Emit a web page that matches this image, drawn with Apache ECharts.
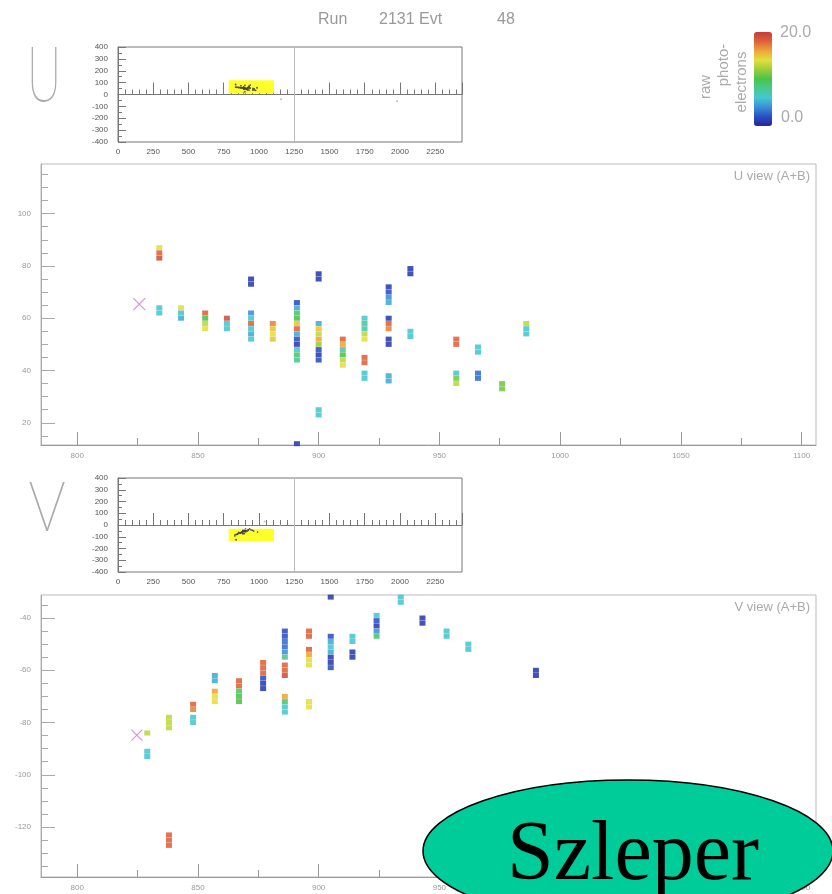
<!DOCTYPE html>
<html>
<head>
<meta charset="utf-8">
<title>Run 2131 Evt 48</title>
<script src="https://cdn.jsdelivr.net/npm/echarts@6.0.0/dist/echarts.min.js"></script>
<style>
  html, body { margin: 0; padding: 0; background: #fff; }
  #main { width: 832px; height: 894px; }
</style>
</head>
<body>
<div id="main"></div>
<script>
// hits: [position, coordinate, raw photo-electrons]
var uHits = [
  [834,87,14],[834,85,18],[834,83,19],[834,64,6],[834,62,6],
  [843,64,14],[843,62,6],[843,60,5],
  [853,62,18],[853,60,10],[853,58,13],[853,56,14],
  [862,60,19],[862,58,6],[862,56,6],
  [872,75,1],[872,73,1],[872,62,4],[872,60,6],[872,58,18],[872,56,6],[872,54,5],[872,52,6],
  [881,58,17],[881,56,15],[881,54,14],[881,52,15],
  [891,66,2],[891,64,5],[891,62,9],[891,60,10],[891,58,15],[891,56,18],[891,54,5],[891,52,2],[891,50,1],[891,48,6],[891,46,9],[891,44,8],[891,12,1],
  [900,77,1],[900,75,1],[900,58,5],[900,56,15],[900,54,13],[900,52,16],[900,50,12],[900,48,2],[900,46,1],[900,44,2],[900,25,6],[900,23,6],
  [910,52,18],[910,50,16],[910,48,7],[910,46,10],[910,44,13],[910,42,14],
  [919,60,6],[919,58,8],[919,56,7],[919,54,13],[919,52,14],[919,45,18],[919,43,18],[919,39,6],[919,37,6],
  [929,72,1],[929,70,2],[929,68,4],[929,66,5],[929,60,1],[929,58,18],[929,56,17],[929,52,1],[929,50,1],[929,38,5],[929,36,5],
  [938,79,1],[938,77,1],[938,55,6],[938,53,6],
  [957,52,18],[957,50,18],[957,39,6],[957,37,11],[957,35,13],
  [966,49,6],[966,47,6],[966,39,3],[966,37,3],
  [976,35,11],[976,33,11],
  [986,58,13],[986,56,6],[986,54,6]
];
var vHits = [
  [829,-84,13],[829,-91,6],[829,-93,6],
  [838,-78,13],[838,-80,13],[838,-82,13],[838,-123,18],[838,-125,18],[838,-127,18],
  [848,-73,18],[848,-75,17],[848,-78,6],[848,-80,6],
  [857,-62,5],[857,-64,5],[857,-68,16],[857,-70,14],[857,-72,14],
  [867,-64,18],[867,-66,18],[867,-68,9],[867,-70,10],[867,-72,10],
  [877,-57,18],[877,-59,18],[877,-61,18],[877,-63,2],[877,-65,1],[877,-67,1],
  [886,-45,2],[886,-47,2],[886,-49,3],[886,-51,3],[886,-53,4],[886,-55,8],[886,-58,18],[886,-60,18],[886,-62,19],[886,-70,16],[886,-72,9],[886,-74,6],[886,-76,6],
  [896,-45,18],[896,-47,18],[896,-52,18],[896,-54,16],[896,-56,14],[896,-58,14],[896,-72,14],[896,-74,14],
  [905,-32,1],[905,-47,2],[905,-49,5],[905,-51,6],[905,-53,5],[905,-55,1],[905,-57,1],[905,-59,2],
  [914,-47,6],[914,-49,6],[914,-53,1],[914,-55,1],
  [924,-39,6],[924,-41,2],[924,-43,1],[924,-45,4],[924,-47,9],
  [934,-32,6],[934,-34,6],
  [943,-40,1],[943,-42,1],
  [953,-45,6],[953,-47,6],
  [962,-50,6],[962,-52,6],
  [990,-60,1],[990,-62,1]
];
// event vertex (pink cross)
var uVertex = [[825.7, 65.4]];
var vVertex = [[824.7, -84.8]];
// stray hits seen only in the overview strips
var uInsetExtra = [[1156, -40], [1980, -57]];
var vInsetExtra = [[1040, 30], [1150, -5]];

// zoomed window (yellow box in the overview strips)
var zoomX = [785, 1106];
var uZoomY = [11.5, 119];
var vZoomY = [-139.1, -31.2];
var detectorGap = 1250;

// tick values
var mainXTicks = [800, 850, 900, 950, 1000, 1050, 1100];
var mainXMinor = [825, 875, 925, 975, 1025, 1075];
var uYTicks = [20, 40, 60, 80, 100];
var uYMinor = [15, 25, 30, 35, 45, 50, 55, 65, 70, 75, 85, 90, 95, 105, 110, 115];
var vYTicks = [-120, -100, -80, -60, -40];
var vYMinor = [-135, -130, -125, -115, -110, -105, -95, -90, -85, -75, -70, -65, -55, -50, -45, -35];

var peColors = ['#262699','#2a4fc4','#3a8fd6','#46c6cf','#47c98f','#49c449','#9ccc3c','#e2e03c','#eda53a','#e0603a','#c43c3c'];

var plain = function (v) { return String(v); };
var lblMain = { color: '#999', fontSize: 8, fontFamily: 'Liberation Sans', formatter: plain };
var lblInset = { color: '#555', fontSize: 8, fontFamily: 'Liberation Sans', formatter: plain };

function insetX(grid) {
  return {
    type: 'value', gridIndex: grid, min: 0, max: 2440, interval: 250,
    axisLine: { lineStyle: { color: '#777' } },
    axisTick: { inside: true, length: 12, lineStyle: { color: '#777' } },
    minorTick: { show: true, splitNumber: 5, length: 5, lineStyle: { color: '#777' } },
    axisLabel: Object.assign({ margin: 6, showMaxLabel: false }, lblInset),
    splitLine: { show: false }
  };
}
function insetY(grid) {
  return {
    type: 'value', gridIndex: grid, min: -400, max: 400, interval: 100,
    axisLine: { lineStyle: { color: '#777' } },
    axisTick: { inside: true, length: 8, lineStyle: { color: '#777' } },
    minorTick: { show: true, splitNumber: 2, length: 4, lineStyle: { color: '#777' } },
    axisLabel: Object.assign({ margin: 10 }, lblInset),
    splitLine: { show: false }
  };
}
function mainX(grid, minor) {
  return {
    type: 'value', gridIndex: grid, min: zoomX[0], max: zoomX[1], position: 'bottom',
    axisLine: { show: !minor, lineStyle: { color: '#999' } },
    axisTick: { inside: true, length: minor ? 7 : 13, customValues: minor ? mainXMinor : mainXTicks, lineStyle: { color: '#999' } },
    axisLabel: Object.assign({ show: !minor, margin: 7, customValues: mainXTicks }, lblMain),
    splitLine: { show: false }
  };
}
function mainY(grid, range, ticks, minorTicks, minor) {
  return {
    type: 'value', gridIndex: grid, min: range[0], max: range[1], position: 'left',
    axisLine: { show: !minor, lineStyle: { color: '#aaa' } },
    axisTick: { inside: true, length: minor ? 7 : 14, customValues: minor ? minorTicks : ticks, lineStyle: { color: '#aaa' } },
    axisLabel: Object.assign({ show: !minor, margin: 10, customValues: ticks }, lblMain),
    splitLine: { show: false }
  };
}
function insetBox(yr) {
  return {
    silent: true,
    itemStyle: { color: '#ffff2a', opacity: 1 },
    data: [[{ coord: [zoomX[0], yr[1]] }, { coord: [zoomX[1], yr[0]] }]]
  };
}
var gapLine = {
  silent: true, symbol: 'none', label: { show: false },
  lineStyle: { color: '#bbb', width: 1, type: 'solid' },
  data: [{ xAxis: detectorGap }]
};
var crossSymbol = 'path://M0,0L10,10M10,0L0,10';

var myChart = echarts.init(document.getElementById('main'));
var option = {
  animation: false,
  backgroundColor: '#fff',
  grid: [
    { left: 118, top: 47, width: 344, height: 95, show: true, borderColor: '#777', borderWidth: 1 },
    { left: 41, top: 164, width: 775, height: 281, show: true, borderColor: '#bbb', borderWidth: 1 },
    { left: 118, top: 478, width: 344, height: 94, show: true, borderColor: '#777', borderWidth: 1 },
    { left: 41, top: 595, width: 775, height: 282, show: true, borderColor: '#bbb', borderWidth: 1 }
  ],
  xAxis: [
    insetX(0), mainX(1, false), mainX(1, true),
    insetX(2), mainX(3, false), mainX(3, true)
  ],
  yAxis: [
    insetY(0), mainY(1, uZoomY, uYTicks, uYMinor, false), mainY(1, uZoomY, uYTicks, uYMinor, true),
    insetY(2), mainY(3, vZoomY, vYTicks, vYMinor, false), mainY(3, vZoomY, vYTicks, vYMinor, true)
  ],
  visualMap: {
    type: 'continuous', min: 0, max: 20, dimension: 2, seriesIndex: [1, 4],
    orient: 'vertical', left: 754, top: 32, itemWidth: 18, itemHeight: 94,
    padding: 0, text: null, calculable: false, showLabel: false,
    inRange: { color: peColors }
  },
  series: [
    { type: 'scatter', xAxisIndex: 0, yAxisIndex: 0, z: 3, data: uHits, symbolSize: 1.5,
      itemStyle: { color: '#445' } },
    { type: 'scatter', xAxisIndex: 1, yAxisIndex: 1, z: 3, data: uHits, symbol: 'rect', symbolSize: [6, 5],
      itemStyle: { opacity: 0.88 } },
    { type: 'scatter', xAxisIndex: 1, yAxisIndex: 1, z: 4, data: uVertex, symbol: crossSymbol, symbolSize: 12,
      itemStyle: { color: 'rgba(0,0,0,0)', borderColor: '#d27bd8', borderWidth: 1.3 } },
    { type: 'scatter', xAxisIndex: 3, yAxisIndex: 3, z: 3, data: vHits, symbolSize: 1.5,
      itemStyle: { color: '#445' } },
    { type: 'scatter', xAxisIndex: 4, yAxisIndex: 4, z: 3, data: vHits, symbol: 'rect', symbolSize: [6, 5],
      itemStyle: { opacity: 0.88 } },
    { type: 'scatter', xAxisIndex: 4, yAxisIndex: 4, z: 4, data: vVertex, symbol: crossSymbol, symbolSize: 11,
      itemStyle: { color: 'rgba(0,0,0,0)', borderColor: '#d27bd8', borderWidth: 1.3 } },
    { type: 'scatter', xAxisIndex: 0, yAxisIndex: 0, z: 1, data: uInsetExtra, symbolSize: 2,
      itemStyle: { color: '#aaa' }, markArea: insetBox(uZoomY), markLine: gapLine },
    { type: 'scatter', xAxisIndex: 3, yAxisIndex: 3, z: 1, data: vInsetExtra, symbolSize: 2,
      itemStyle: { color: '#d8a0d8' }, markArea: insetBox(vZoomY), markLine: gapLine }
  ],
  graphic: [
    // header
    { type: 'text', x: 318, y: 20, style: { text: 'Run', fill: '#999', font: '16px "Liberation Sans"', verticalAlign: 'middle' } },
    { type: 'text', x: 379, y: 20, style: { text: '2131 Evt', fill: '#999', font: '16px "Liberation Sans"', verticalAlign: 'middle' } },
    { type: 'text', x: 497, y: 20, style: { text: '48', fill: '#999', font: '16px "Liberation Sans"', verticalAlign: 'middle' } },
    // view letters
    { type: 'text', x: 44, y: 79, scaleX: 0.62, style: { text: 'U', fill: '#aaa', font: '100 76px "Noto Sans"', align: 'center', verticalAlign: 'middle' } },
    { type: 'text', x: 47, y: 512, scaleX: 0.92, style: { text: 'V', fill: '#aaa', font: '100 68px "Noto Sans"', align: 'center', verticalAlign: 'middle' } },
    { type: 'text', x: 810, y: 176, style: { text: 'U view (A+B)', fill: '#aaa', font: '13px "Liberation Sans"', align: 'right', verticalAlign: 'middle' } },
    { type: 'text', x: 810, y: 607, style: { text: 'V view (A+B)', fill: '#aaa', font: '13px "Liberation Sans"', align: 'right', verticalAlign: 'middle' } },
    // colour scale labels
    { type: 'text', x: 780, y: 33, style: { text: '20.0', fill: '#aaa', font: '16px "Liberation Sans"', verticalAlign: 'middle' } },
    { type: 'text', x: 781, y: 118, style: { text: '0.0', fill: '#aaa', font: '16px "Liberation Sans"', verticalAlign: 'middle' } },
    { type: 'text', x: 706, y: 87, rotation: Math.PI / 2, style: { text: 'raw', fill: '#aaa', font: '15px "Liberation Sans"', align: 'center', verticalAlign: 'middle' } },
    { type: 'text', x: 724, y: 65, rotation: Math.PI / 2, style: { text: 'photo-', fill: '#aaa', font: '15px "Liberation Sans"', align: 'center', verticalAlign: 'middle' } },
    { type: 'text', x: 742, y: 82, rotation: Math.PI / 2, style: { text: 'electrons', fill: '#aaa', font: '15px "Liberation Sans"', align: 'center', verticalAlign: 'middle' } },
    // name tag
    { type: 'ellipse', z: 100, shape: { cx: 628, cy: 851, rx: 205, ry: 71 }, style: { fill: '#00cc99', stroke: '#000', lineWidth: 1.5 } },
    { type: 'text', z: 101, x: 633, y: 857, style: { text: 'Szleper', fill: '#000', font: '84px "Liberation Serif"', align: 'center', verticalAlign: 'middle' } }
  ]
};
myChart.setOption(option);
</script>
</body>
</html>
